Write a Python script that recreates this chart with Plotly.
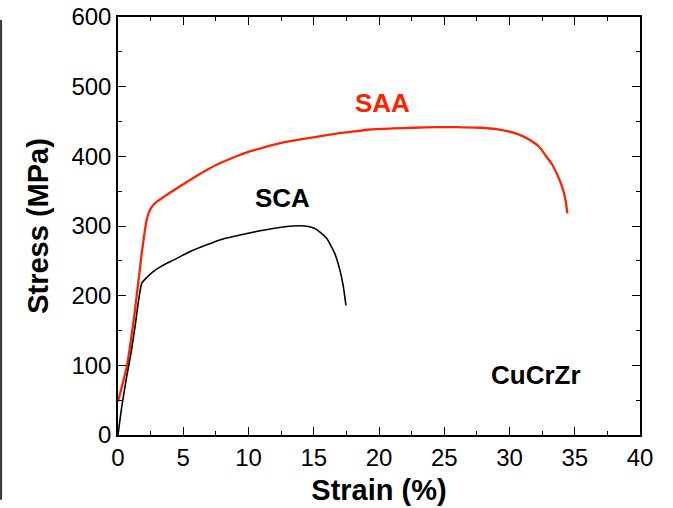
import plotly.graph_objects as go

# SAA curve (red)
saa_strain = [0.0, 0.67, 1.3, 1.82, 2.2, 2.5, 2.97, 3.22, 4.0, 5.0, 6.2, 7.56, 8.8, 10.1, 11.4,
              12.67, 14.0, 15.2, 16.5, 17.8, 19.3, 21.0, 22.6, 24.5, 26.0, 27.7, 29.0, 30.3,
              31.0, 31.6, 32.3, 32.85, 33.25, 33.6, 33.9, 34.15, 34.32, 34.43]
saa_stress = [48, 98, 179, 261, 309, 325, 335, 338, 348, 360, 374, 388, 398, 407, 414,
              420, 424.5, 428, 432, 435, 438.5, 440, 441, 442, 442, 441, 439, 434,
              429, 423, 413, 399, 389, 376, 363, 349, 334, 318]

# SCA curve (black)
sca_strain = [0.0, 0.3, 0.67, 1.0, 1.3, 1.82, 2.2, 2.6, 3.3, 4.24, 5.5, 6.8, 8.0, 9.35, 10.6,
              11.9, 13.4, 14.3, 15.0, 15.5, 16.0, 16.6, 17.0, 17.25, 17.47]
sca_stress = [0, 42, 84, 118, 155, 218, 226, 233, 242, 251, 263, 273, 281, 287, 292,
              296.5, 300, 300, 297, 291, 282, 261, 237, 215, 186]

labels = ["SAA", "SCA", "CuCrZr"]
label_x = [20.3, 12.6, 32.0]
label_y = [476, 340, 86]
label_colors = ["#ff2200", "black", "black"]

FONT = "Liberation Sans, Arial, Helvetica"

fig = go.Figure()
fig.add_trace(go.Scatter(x=saa_strain, y=saa_stress, mode="lines",
                         line=dict(color="#ff2200", width=2.3, shape="spline", smoothing=0.5),
                         showlegend=False))
fig.add_trace(go.Scatter(x=sca_strain, y=sca_stress, mode="lines",
                         line=dict(color="black", width=1.6, shape="spline", smoothing=0.5),
                         showlegend=False))

for t, x, y, c in zip(labels, label_x, label_y, label_colors):
    fig.add_annotation(x=x, y=y, text=f"<b>{t}</b>", showarrow=False,
                       font=dict(family=FONT, size=26, color=c))

axis_common = dict(
    showline=True, linecolor="black", linewidth=1.5, mirror="ticks",
    ticks="inside", ticklen=8, tickwidth=1.2, tickcolor="black",
    showgrid=False, zeroline=False, automargin=False,
    tickfont=dict(family=FONT, size=24, color="black"),
)

fig.update_xaxes(range=[0, 40], dtick=5, tick0=0,
                 minor=dict(ticks="inside", ticklen=4, dtick=2.5, tickcolor="black", tickwidth=1.2),
                 title=dict(text="<b>Strain (%)</b>", font=dict(family=FONT, size=29, color="black"),
                            standoff=10),
                 **axis_common)
fig.update_yaxes(range=[0, 600], dtick=100, tick0=0,
                 minor=dict(ticks="inside", ticklen=4, dtick=50, tickcolor="black", tickwidth=1.2),
                 title=dict(text="<b>Stress (MPa)</b>", font=dict(family=FONT, size=29, color="black"),
                            standoff=14),
                 **axis_common)

# dark edge line at left of image
fig.add_shape(type="line", xref="paper", yref="paper", x0=-0.224, x1=-0.224, y0=0.993, y1=-0.155,
              line=dict(color="#333333", width=2))

fig.update_layout(width=673, height=508, margin=dict(l=118, r=33, t=17, b=73),
                  plot_bgcolor="white", paper_bgcolor="white")

fig.write_html("out.html", config={"displayModeBar": False},
               post_script="document.body.style.margin='0';")
